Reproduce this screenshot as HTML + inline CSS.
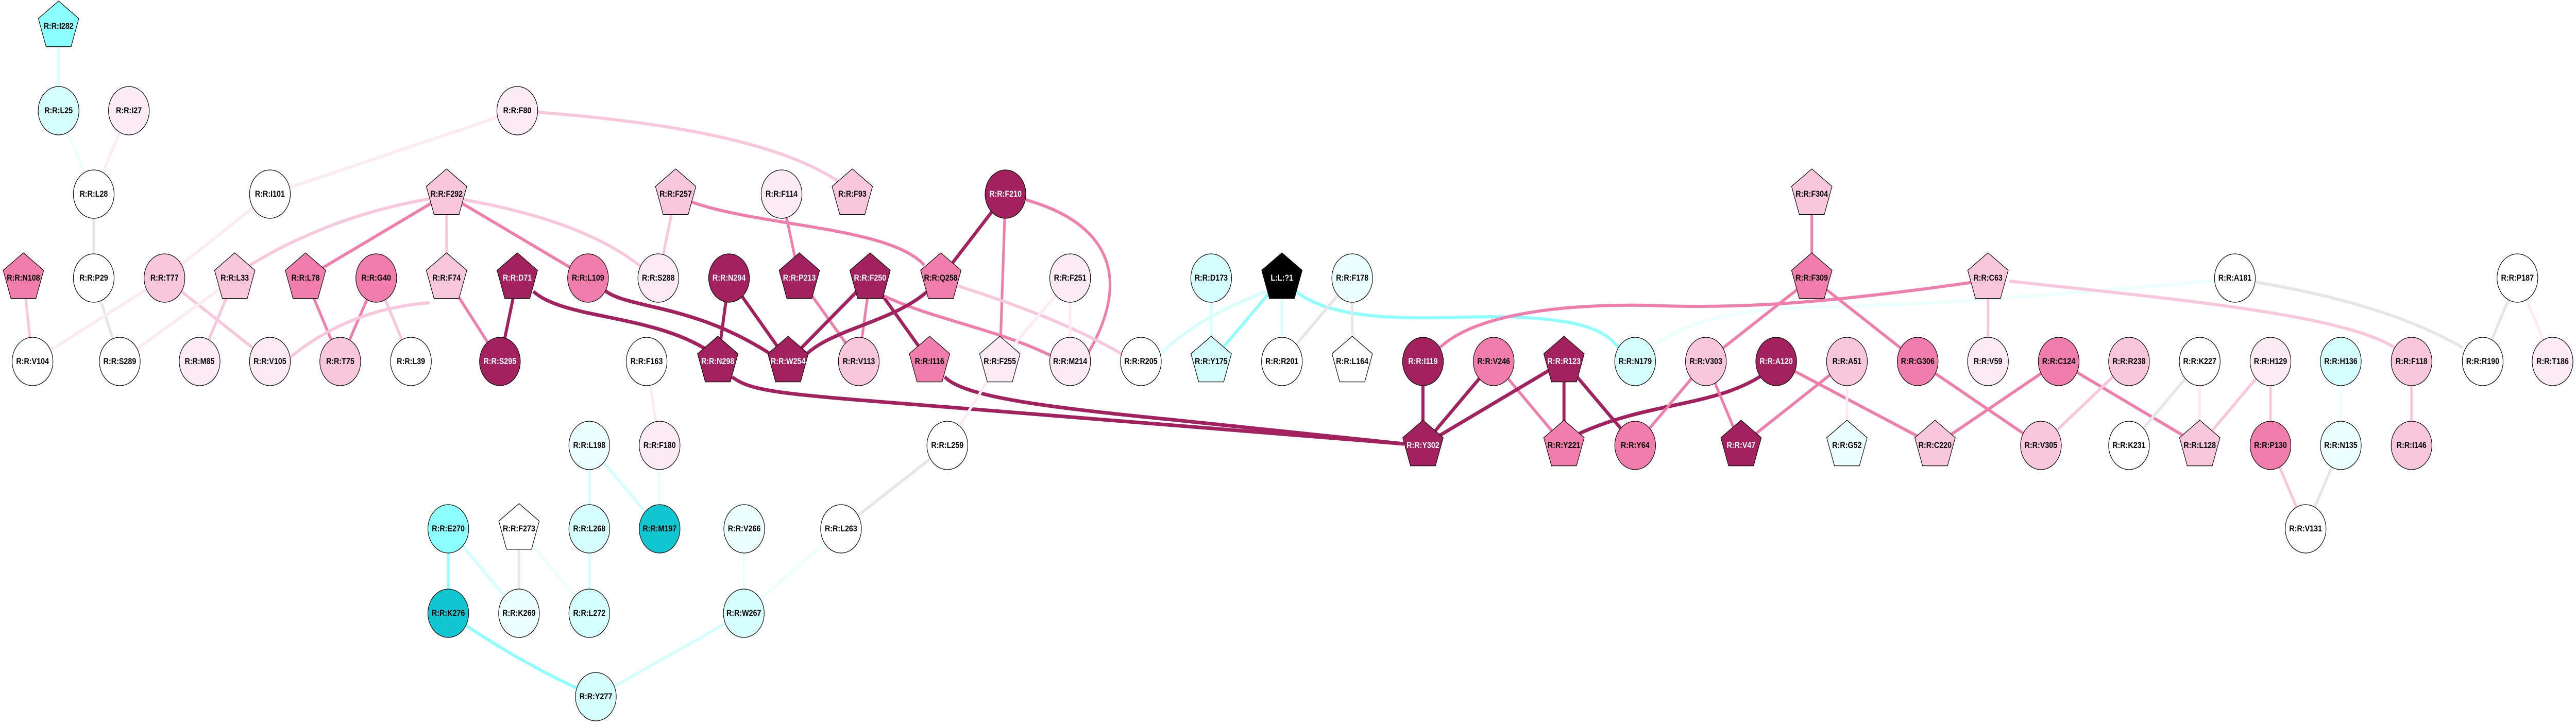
<!DOCTYPE html>
<html><head><meta charset="utf-8"><style>
html,body{margin:0;padding:0;background:#fff;width:100%;height:100%;overflow:hidden}
svg{display:block;position:fixed;left:0;top:0;width:100vw;height:100vh}
.e{fill:none;stroke-width:6;stroke-linecap:butt}
.D{stroke:#a3215e;stroke-width:7}.M{stroke:#f07dab}.L{stroke:#f9c7dc}.V{stroke:#fcebf3}
.C{stroke:#8cffff}.LC{stroke:#d5ffff}.VC{stroke:#ecffff}.G{stroke:#e6e6e6}
.n circle,.n polygon{stroke:#000;stroke-width:1.3}
text{font-family:"Liberation Sans",Arial,sans-serif;font-weight:bold;font-size:17px;text-anchor:middle;dominant-baseline:central}
.fD{fill:#a3215e}.fM{fill:#f07dab}.fL{fill:#f9c7dc}.fV{fill:#fcebf3}.fC{fill:#8cffff}.fLC{fill:#d5ffff}.fVC{fill:#ecffff}.fT{fill:#10c6d0}.fW{fill:#fff}.fK{fill:#000}
.w{fill:#fff}
</style></head><body>
<svg viewBox="0 0 5936 1408" preserveAspectRatio="none" xmlns="http://www.w3.org/2000/svg">
<defs><polygon id="p" points="0,-49 46.6,-15 28.8,39.6 -28.8,39.6 -46.6,-15"/></defs>
<g>
<line class="e LC" x1="135" y1="51" x2="135" y2="215"/>
<line class="e VC" x1="135" y1="215" x2="216" y2="377"/>
<line class="e V" x1="297" y1="215" x2="216" y2="377"/>
<line class="e G" x1="216" y1="377" x2="216" y2="540"/>
<line class="e G" x1="216" y1="540" x2="276" y2="702"/>
<line class="e V" x1="1192" y1="215" x2="622" y2="377"/>
<path class="e L" d="M1240,218 C1500,235 1800,270 1945,360"/>
<line class="e V" x1="622" y1="377" x2="379" y2="540"/>
<line class="e V" x1="379" y1="540" x2="75" y2="702"/>
<line class="e L" x1="379" y1="540" x2="622" y2="702"/>
<line class="e V" x1="541" y1="540" x2="276" y2="702"/>
<line class="e L" x1="541" y1="540" x2="460" y2="702"/>
<line class="e L" x1="54" y1="540" x2="75" y2="702"/>
<path class="e L" d="M990,386 Q760,420 574,516"/>
<line class="e M" x1="1029" y1="377" x2="704" y2="540"/>
<line class="e L" x1="1029" y1="377" x2="1029" y2="540"/>
<line class="e M" x1="1029" y1="377" x2="1355" y2="540"/>
<path class="e L" d="M1070,388 Q1350,430 1480,520"/>
<line class="e M" x1="704" y1="540" x2="784" y2="702"/>
<line class="e M" x1="867" y1="540" x2="784" y2="702"/>
<line class="e L" x1="867" y1="540" x2="947" y2="702"/>
<path class="e L" d="M990,588 Q800,600 660,700"/>
<line class="e M" x1="1029" y1="540" x2="1152" y2="702"/>
<line class="e D" x1="1192" y1="540" x2="1152" y2="702"/>
<path class="e D" d="M1229,566 C1300,620 1500,610 1630,680"/>
<path class="e D" d="M1395,565 C1450,600 1600,590 1780,690"/>
<path class="e D" d="M1687,732 C1730,760 1800,765 2100,785 L3235,862"/>
<path class="e D" d="M2177,732 C2220,770 2400,790 2700,815 L3235,862"/>
<line class="e V" x1="1490" y1="702" x2="1520" y2="865"/>
<line class="e VC" x1="1520" y1="865" x2="1520" y2="1027"/>
<line class="e LC" x1="1358" y1="865" x2="1520" y2="1027"/>
<line class="e LC" x1="1358" y1="865" x2="1358" y2="1027"/>
<line class="e LC" x1="1358" y1="1027" x2="1358" y2="1191"/>
<line class="e C" x1="1033" y1="1027" x2="1033" y2="1191"/>
<line class="e LC" x1="1033" y1="1027" x2="1196" y2="1191"/>
<line class="e G" x1="1196" y1="1027" x2="1196" y2="1191"/>
<line class="e VC" x1="1196" y1="1027" x2="1358" y2="1191"/>
<path class="e C" d="M1033,1191 Q1200,1290 1373,1353"/>
<line class="e LC" x1="1714" y1="1191" x2="1373" y2="1353"/>
<line class="e VC" x1="1715" y1="1027" x2="1714" y2="1191"/>
<line class="e VC" x1="1938" y1="1027" x2="1714" y2="1191"/>
<line class="e G" x1="2183" y1="865" x2="1938" y2="1027"/>
<line class="e V" x1="2304" y1="702" x2="2183" y2="865"/>
<line class="e L" x1="1557" y1="377" x2="1517" y2="540"/>
<path class="e M" d="M1593,392 C1750,440 2050,440 2130,515"/>
<line class="e M" x1="1801" y1="377" x2="1842" y2="540"/>
<line class="e D" x1="2317" y1="377" x2="2168" y2="540"/>
<line class="e M" x1="2317" y1="377" x2="2304" y2="702"/>
<path class="e M" d="M2364,388 C2580,440 2600,560 2500,696"/>
<line class="e D" x1="1680" y1="540" x2="1654" y2="702"/>
<line class="e D" x1="1680" y1="540" x2="1816" y2="702"/>
<line class="e M" x1="1842" y1="540" x2="1979" y2="702"/>
<line class="e D" x1="2005" y1="540" x2="1816" y2="702"/>
<line class="e M" x1="2005" y1="540" x2="1979" y2="702"/>
<line class="e D" x1="2005" y1="540" x2="2142" y2="702"/>
<path class="e M" d="M2038,575 C2150,620 2300,640 2420,690"/>
<path class="e D" d="M2137,566 C2050,630 1900,640 1845,700"/>
<path class="e L" d="M2206,555 Q2450,620 2590,690"/>
<line class="e V" x1="2466" y1="540" x2="2466" y2="702"/>
<line class="e V" x1="2466" y1="540" x2="2304" y2="702"/>
<line class="e LC" x1="2791" y1="540" x2="2791" y2="702"/>
<path class="e LC" d="M2918,566 Q2750,620 2671,691"/>
<line class="e C" x1="2954" y1="540" x2="2791" y2="702"/>
<line class="e LC" x1="2954" y1="540" x2="2954" y2="702"/>
<path class="e C" d="M2988,567 C3100,640 3350,610 3500,616 C3640,622 3700,640 3730,676"/>
<line class="e G" x1="3116" y1="540" x2="2954" y2="702"/>
<line class="e G" x1="3116" y1="540" x2="3116" y2="702"/>
<path class="e M" d="M3318,675 C3400,610 3600,590 3800,593 C4000,600 4200,590 4547,548"/>
<path class="e VC" d="M3806,673 C3900,620 4000,600 4200,596 C4500,592 4900,560 5105,545"/>
<line class="e D" x1="3279" y1="702" x2="3279" y2="865"/>
<line class="e D" x1="3442" y1="702" x2="3279" y2="865"/>
<line class="e M" x1="3442" y1="702" x2="3604" y2="865"/>
<line class="e D" x1="3604" y1="702" x2="3279" y2="865"/>
<line class="e D" x1="3604" y1="702" x2="3604" y2="865"/>
<line class="e D" x1="3604" y1="702" x2="3768" y2="865"/>
<path class="e D" d="M4060,729 C3950,790 3800,780 3639,842"/>
<line class="e M" x1="4093" y1="702" x2="4459" y2="865"/>
<line class="e M" x1="3931" y1="702" x2="3768" y2="865"/>
<line class="e M" x1="3931" y1="702" x2="4012" y2="865"/>
<line class="e M" x1="4256" y1="702" x2="4012" y2="865"/>
<line class="e V" x1="4256" y1="702" x2="4256" y2="865"/>
<line class="e M" x1="4175" y1="377" x2="4175" y2="540"/>
<line class="e M" x1="4175" y1="540" x2="3931" y2="702"/>
<line class="e M" x1="4175" y1="540" x2="4419" y2="702"/>
<line class="e L" x1="4581" y1="540" x2="4581" y2="702"/>
<path class="e L" d="M4630,546 C5000,580 5400,610 5520,676"/>
<path class="e G" d="M5198,548 Q5500,590 5675,675"/>
<line class="e G" x1="5801" y1="540" x2="5721" y2="702"/>
<line class="e V" x1="5801" y1="540" x2="5882" y2="702"/>
<line class="e M" x1="4419" y1="702" x2="4703" y2="865"/>
<line class="e M" x1="4744" y1="702" x2="4459" y2="865"/>
<line class="e M" x1="4744" y1="702" x2="5069" y2="865"/>
<line class="e L" x1="4906" y1="702" x2="4703" y2="865"/>
<line class="e G" x1="5069" y1="702" x2="4906" y2="865"/>
<line class="e V" x1="5069" y1="702" x2="5069" y2="865"/>
<line class="e L" x1="5232" y1="702" x2="5069" y2="865"/>
<line class="e L" x1="5232" y1="702" x2="5232" y2="865"/>
<line class="e L" x1="5232" y1="865" x2="5313" y2="1027"/>
<line class="e VC" x1="5394" y1="702" x2="5394" y2="865"/>
<line class="e G" x1="5394" y1="865" x2="5313" y2="1027"/>
<line class="e L" x1="5557" y1="702" x2="5557" y2="865"/>
</g>
<g class="n">
<g transform="translate(135,51)"><use href="#p" class="fC" stroke="#000" stroke-width="1.3"/><text>R:R:I282</text></g>
<g transform="translate(135,215)"><circle r="47" class="fLC"/><text>R:R:L25</text></g>
<g transform="translate(297,215)"><circle r="47" class="fV"/><text>R:R:I27</text></g>
<g transform="translate(1192,215)"><circle r="47" class="fV"/><text>R:R:F80</text></g>
<g transform="translate(216,377)"><circle r="47" class="fW"/><text>R:R:L28</text></g>
<g transform="translate(622,377)"><circle r="47" class="fW"/><text>R:R:I101</text></g>
<g transform="translate(1029,377)"><use href="#p" class="fL" stroke="#000" stroke-width="1.3"/><text>R:R:F292</text></g>
<g transform="translate(54,540)"><use href="#p" class="fM" stroke="#000" stroke-width="1.3"/><text>R:R:N108</text></g>
<g transform="translate(216,540)"><circle r="47" class="fW"/><text>R:R:P29</text></g>
<g transform="translate(379,540)"><circle r="47" class="fL"/><text>R:R:T77</text></g>
<g transform="translate(541,540)"><use href="#p" class="fL" stroke="#000" stroke-width="1.3"/><text>R:R:L33</text></g>
<g transform="translate(704,540)"><use href="#p" class="fM" stroke="#000" stroke-width="1.3"/><text>R:R:L78</text></g>
<g transform="translate(867,540)"><circle r="47" class="fM"/><text>R:R:G40</text></g>
<g transform="translate(1029,540)"><use href="#p" class="fL" stroke="#000" stroke-width="1.3"/><text>R:R:F74</text></g>
<g transform="translate(1192,540)"><use href="#p" class="fD" stroke="#000" stroke-width="1.3"/><text class="w">R:R:D71</text></g>
<g transform="translate(1355,540)"><circle r="47" class="fM"/><text>R:R:L109</text></g>
<g transform="translate(75,702)"><circle r="47" class="fW"/><text>R:R:V104</text></g>
<g transform="translate(276,702)"><circle r="47" class="fW"/><text>R:R:S289</text></g>
<g transform="translate(460,702)"><circle r="47" class="fV"/><text>R:R:M85</text></g>
<g transform="translate(622,702)"><circle r="47" class="fV"/><text>R:R:V105</text></g>
<g transform="translate(784,702)"><circle r="47" class="fL"/><text>R:R:T75</text></g>
<g transform="translate(947,702)"><circle r="47" class="fW"/><text>R:R:L39</text></g>
<g transform="translate(1152,702)"><circle r="47" class="fD"/><text class="w">R:R:S295</text></g>
<g transform="translate(1490,702)"><circle r="47" class="fW"/><text>R:R:F163</text></g>
<g transform="translate(1358,865)"><circle r="47" class="fVC"/><text>R:R:L198</text></g>
<g transform="translate(1520,865)"><circle r="47" class="fV"/><text>R:R:F180</text></g>
<g transform="translate(1033,1027)"><circle r="47" class="fC"/><text>R:R:E270</text></g>
<g transform="translate(1196,1027)"><use href="#p" class="fW" stroke="#000" stroke-width="1.3"/><text>R:R:F273</text></g>
<g transform="translate(1358,1027)"><circle r="47" class="fLC"/><text>R:R:L268</text></g>
<g transform="translate(1520,1027)"><circle r="47" class="fT"/><text>R:R:M197</text></g>
<g transform="translate(1033,1191)"><circle r="47" class="fT"/><text>R:R:K276</text></g>
<g transform="translate(1196,1191)"><circle r="47" class="fVC"/><text>R:R:K269</text></g>
<g transform="translate(1358,1191)"><circle r="47" class="fLC"/><text>R:R:L272</text></g>
<g transform="translate(1714,1191)"><circle r="47" class="fLC"/><text>R:R:W267</text></g>
<g transform="translate(1373,1353)"><circle r="47" class="fLC"/><text>R:R:Y277</text></g>
<g transform="translate(1715,1027)"><circle r="47" class="fVC"/><text>R:R:V266</text></g>
<g transform="translate(1938,1027)"><circle r="47" class="fW"/><text>R:R:L263</text></g>
<g transform="translate(2183,865)"><circle r="47" class="fW"/><text>R:R:L259</text></g>
<g transform="translate(1557,377)"><use href="#p" class="fL" stroke="#000" stroke-width="1.3"/><text>R:R:F257</text></g>
<g transform="translate(1801,377)"><circle r="47" class="fV"/><text>R:R:F114</text></g>
<g transform="translate(1964,377)"><use href="#p" class="fL" stroke="#000" stroke-width="1.3"/><text>R:R:F93</text></g>
<g transform="translate(2317,377)"><circle r="47" class="fD"/><text class="w">R:R:F210</text></g>
<g transform="translate(1517,540)"><circle r="47" class="fV"/><text>R:R:S288</text></g>
<g transform="translate(1680,540)"><circle r="47" class="fD"/><text class="w">R:R:N294</text></g>
<g transform="translate(1842,540)"><use href="#p" class="fD" stroke="#000" stroke-width="1.3"/><text class="w">R:R:P213</text></g>
<g transform="translate(2005,540)"><use href="#p" class="fD" stroke="#000" stroke-width="1.3"/><text class="w">R:R:F250</text></g>
<g transform="translate(2168,540)"><use href="#p" class="fM" stroke="#000" stroke-width="1.3"/><text>R:R:Q258</text></g>
<g transform="translate(2466,540)"><circle r="47" class="fV"/><text>R:R:F251</text></g>
<g transform="translate(2791,540)"><circle r="47" class="fLC"/><text>R:R:D173</text></g>
<g transform="translate(2954,540)"><use href="#p" class="fK" stroke="#000" stroke-width="1.3"/><text class="w">L:L:?1</text></g>
<g transform="translate(1654,702)"><use href="#p" class="fD" stroke="#000" stroke-width="1.3"/><text class="w">R:R:N298</text></g>
<g transform="translate(1816,702)"><use href="#p" class="fD" stroke="#000" stroke-width="1.3"/><text class="w">R:R:W254</text></g>
<g transform="translate(1979,702)"><circle r="47" class="fL"/><text>R:R:V113</text></g>
<g transform="translate(2142,702)"><use href="#p" class="fM" stroke="#000" stroke-width="1.3"/><text>R:R:I116</text></g>
<g transform="translate(2304,702)"><use href="#p" class="fV" stroke="#000" stroke-width="1.3"/><text>R:R:F255</text></g>
<g transform="translate(2466,702)"><circle r="47" class="fV"/><text>R:R:M214</text></g>
<g transform="translate(2629,702)"><circle r="47" class="fW"/><text>R:R:R205</text></g>
<g transform="translate(2791,702)"><use href="#p" class="fLC" stroke="#000" stroke-width="1.3"/><text>R:R:Y175</text></g>
<g transform="translate(2954,702)"><circle r="47" class="fW"/><text>R:R:R201</text></g>
<g transform="translate(4175,377)"><use href="#p" class="fL" stroke="#000" stroke-width="1.3"/><text>R:R:F304</text></g>
<g transform="translate(3116,540)"><circle r="47" class="fVC"/><text>R:R:F178</text></g>
<g transform="translate(4175,540)"><use href="#p" class="fM" stroke="#000" stroke-width="1.3"/><text>R:R:F309</text></g>
<g transform="translate(3116,702)"><use href="#p" class="fW" stroke="#000" stroke-width="1.3"/><text>R:R:L164</text></g>
<g transform="translate(3279,702)"><circle r="47" class="fD"/><text class="w">R:R:I119</text></g>
<g transform="translate(3442,702)"><circle r="47" class="fM"/><text>R:R:V246</text></g>
<g transform="translate(3604,702)"><use href="#p" class="fD" stroke="#000" stroke-width="1.3"/><text class="w">R:R:R123</text></g>
<g transform="translate(3768,702)"><circle r="47" class="fLC"/><text>R:R:N179</text></g>
<g transform="translate(3931,702)"><circle r="47" class="fL"/><text>R:R:V303</text></g>
<g transform="translate(4093,702)"><circle r="47" class="fD"/><text class="w">R:R:A120</text></g>
<g transform="translate(4256,702)"><circle r="47" class="fL"/><text>R:R:A51</text></g>
<g transform="translate(4419,702)"><circle r="47" class="fM"/><text>R:R:G306</text></g>
<g transform="translate(3279,865)"><use href="#p" class="fD" stroke="#000" stroke-width="1.3"/><text class="w">R:R:Y302</text></g>
<g transform="translate(3604,865)"><use href="#p" class="fM" stroke="#000" stroke-width="1.3"/><text>R:R:Y221</text></g>
<g transform="translate(3768,865)"><circle r="47" class="fM"/><text>R:R:Y64</text></g>
<g transform="translate(4012,865)"><use href="#p" class="fD" stroke="#000" stroke-width="1.3"/><text class="w">R:R:V47</text></g>
<g transform="translate(4256,865)"><use href="#p" class="fVC" stroke="#000" stroke-width="1.3"/><text>R:R:G52</text></g>
<g transform="translate(4459,865)"><use href="#p" class="fL" stroke="#000" stroke-width="1.3"/><text>R:R:C220</text></g>
<g transform="translate(4581,540)"><use href="#p" class="fL" stroke="#000" stroke-width="1.3"/><text>R:R:C63</text></g>
<g transform="translate(5150,540)"><circle r="47" class="fW"/><text>R:R:A181</text></g>
<g transform="translate(5801,540)"><circle r="47" class="fW"/><text>R:R:P187</text></g>
<g transform="translate(4581,702)"><circle r="47" class="fV"/><text>R:R:V59</text></g>
<g transform="translate(4744,702)"><circle r="47" class="fM"/><text>R:R:C124</text></g>
<g transform="translate(4906,702)"><circle r="47" class="fL"/><text>R:R:R238</text></g>
<g transform="translate(5069,702)"><circle r="47" class="fW"/><text>R:R:K227</text></g>
<g transform="translate(5232,702)"><circle r="47" class="fV"/><text>R:R:H129</text></g>
<g transform="translate(5394,702)"><circle r="47" class="fLC"/><text>R:R:H136</text></g>
<g transform="translate(5557,702)"><circle r="47" class="fL"/><text>R:R:F118</text></g>
<g transform="translate(5721,702)"><circle r="47" class="fW"/><text>R:R:R190</text></g>
<g transform="translate(5882,702)"><circle r="47" class="fV"/><text>R:R:T186</text></g>
<g transform="translate(4703,865)"><circle r="47" class="fL"/><text>R:R:V305</text></g>
<g transform="translate(4906,865)"><circle r="47" class="fW"/><text>R:R:K231</text></g>
<g transform="translate(5069,865)"><use href="#p" class="fL" stroke="#000" stroke-width="1.3"/><text>R:R:L128</text></g>
<g transform="translate(5232,865)"><circle r="47" class="fM"/><text>R:R:P130</text></g>
<g transform="translate(5394,865)"><circle r="47" class="fVC"/><text>R:R:N135</text></g>
<g transform="translate(5557,865)"><circle r="47" class="fL"/><text>R:R:I146</text></g>
<g transform="translate(5313,1027)"><circle r="47" class="fW"/><text>R:R:V131</text></g>
</g>
</svg>
</body></html>
